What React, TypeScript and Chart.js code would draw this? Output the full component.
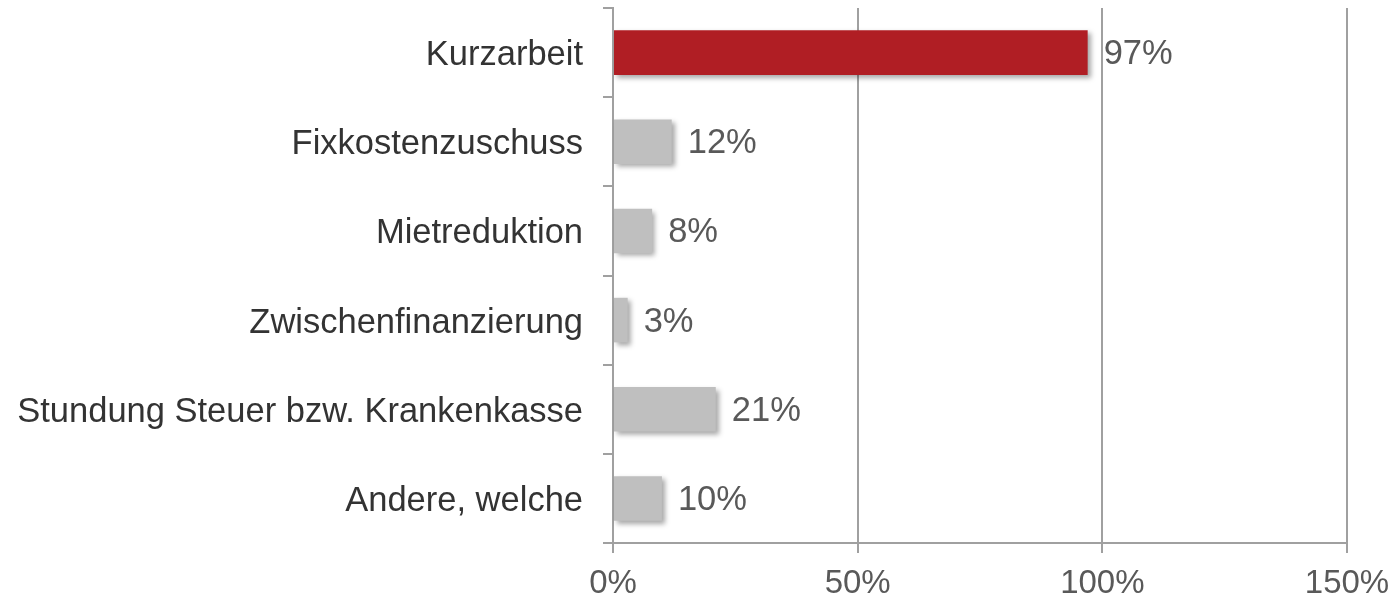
import React, { useEffect, useRef } from 'react';
import { Chart, registerables } from 'chart.js';

Chart.register(...registerables);

const categories = [
  'Kurzarbeit',
  'Fixkostenzuschuss',
  'Mietreduktion',
  'Zwischenfinanzierung',
  'Stundung Steuer bzw. Krankenkasse',
  'Andere, welche',
];
const values = [97, 12, 8, 3, 21, 10];
const barColors = ['#B01E24', '#BFBFBF', '#BFBFBF', '#BFBFBF', '#BFBFBF', '#BFBFBF'];
const xMin = 0;
const xMax = 150;
const xStep = 50;

const FONT = "'Liberation Sans', Arial, Helvetica, sans-serif";
const AXIS = '#A0A0A0';

const shadowPlugin = {
  id: 'barShadow',
  beforeDatasetDraw(chart: any) {
    const ctx = chart.ctx;
    ctx.save();
    ctx.shadowColor = 'rgba(0,0,0,0.35)';
    ctx.shadowBlur = 5;
    ctx.shadowOffsetX = 3;
    ctx.shadowOffsetY = 3;
  },
  afterDatasetDraw(chart: any) {
    chart.ctx.restore();
  },
};

const valueLabelPlugin = {
  id: 'valueLabels',
  afterDatasetsDraw(chart: any) {
    const ctx = chart.ctx;
    const meta = chart.getDatasetMeta(0);
    ctx.save();
    ctx.font = `34.5px ${FONT}`;
    ctx.fillStyle = '#595959';
    ctx.textAlign = 'left';
    ctx.textBaseline = 'middle';
    meta.data.forEach((el: any, i: number) => {
      ctx.fillText(`${values[i]}%`, el.x + 16, el.y + 2);
    });
    ctx.restore();
  },
};

export default function App() {
  const ref = useRef<HTMLCanvasElement>(null);

  useEffect(() => {
    if (!ref.current) return;
    const chart = new Chart(ref.current, {
      type: 'bar',
      data: {
        labels: categories,
        datasets: [
          {
            data: values,
            backgroundColor: barColors,
            borderWidth: 0,
            barPercentage: 0.5,
            categoryPercentage: 1.0,
          },
        ],
      },
      options: {
        indexAxis: 'y',
        responsive: false,
        animation: false,
        layout: { padding: { top: 8, right: 50, left: 0, bottom: 0 } },
        plugins: {
          legend: { display: false },
          tooltip: { enabled: false },
        },
        scales: {
          x: {
            min: xMin,
            max: xMax,
            ticks: {
              stepSize: xStep,
              callback: (v: any) => `${v}%`,
              color: '#595959',
              font: { family: FONT, size: 33 },
              padding: 11,
              maxRotation: 0,
            },
            grid: {
              color: AXIS,
              lineWidth: 2,
              drawTicks: true,
              tickLength: 10,
            },
            border: { display: true, color: AXIS, width: 2 },
            afterFit: (axis: any) => {
              axis.height = 58;
              axis.paddingLeft = 0;
              axis.paddingRight = 0;
            },
          },
          y: {
            ticks: {
              color: '#333333',
              font: { family: FONT, size: 34.5 },
              padding: 20,
              labelOffset: 3,
            },
            grid: {
              color: AXIS,
              lineWidth: 2,
              drawOnChartArea: false,
              drawTicks: true,
              tickLength: 10,
              offset: true,
            },
            border: { display: true, color: AXIS, width: 2 },
            afterFit: (axis: any) => {
              axis.width = 613;
              axis.paddingTop = 0;
              axis.paddingBottom = 0;
            },
          },
        },
      },
      plugins: [shadowPlugin, valueLabelPlugin],
    });
    return () => chart.destroy();
  }, []);

  return (
    <div style={{ position: 'fixed', left: 0, top: 0, width: 1397, height: 601, background: '#fff' }}>
      <canvas ref={ref} width={1397} height={601} />
    </div>
  );
}
